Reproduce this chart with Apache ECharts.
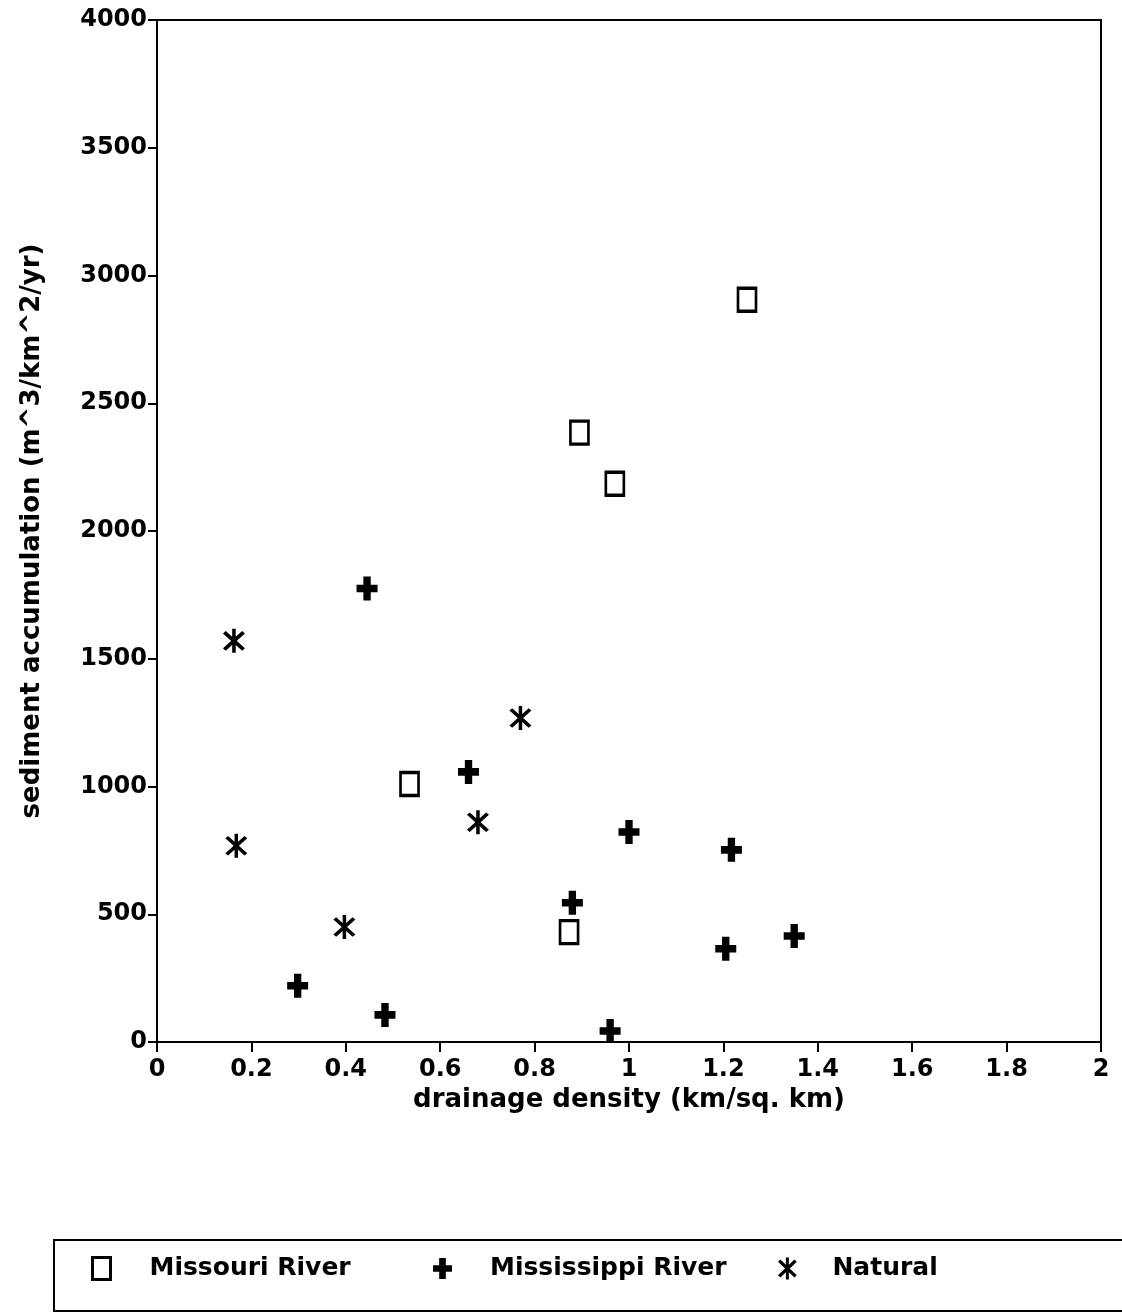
<!DOCTYPE html>
<html>
<head>
<meta charset="utf-8">
<title>sediment accumulation vs drainage density</title>
<script src="https://cdn.jsdelivr.net/npm/echarts@6/dist/echarts.min.js"></script>
<style>
  html, body { margin: 0; padding: 0; background: #fff; }
  #main { width: 1122px; height: 1314px; }
</style>
</head>
<body>
<div id="main"></div>
<script>
// data: [drainage density, sediment accumulation]
var missouri = [[1.25, 2905], [0.895, 2385], [0.97, 2185], [0.535, 1010], [0.873, 430]];
var mississippi = [[0.445, 1775], [0.66, 1057], [1.0, 822], [1.217, 752], [0.88, 545],
                   [1.205, 365], [1.35, 415], [0.298, 220], [0.483, 106], [0.96, 43]];
var natural = [[0.163, 1570], [0.168, 768], [0.397, 450], [0.68, 860], [0.77, 1268]];

var seriesNames = ['Missouri River', 'Mississippi River', 'Natural'];
var xTicks = { min: 0, max: 2, step: 0.2 };
var yTicks = { min: 0, max: 4000, step: 500 };

var font = 'DejaVu Sans';
// thick plus and asterisk drawn as filled shapes
var plusPath = 'path://M6.5,0 H13.5 V7.5 H20 V14.5 H13.5 V22 H6.5 V14.5 H0 V7.5 H6.5 Z';
var starPath = 'path://M8.5,0 H11.5 V22 H8.5 Z M0.6,4.2 L3,2 L19.4,17.8 L17,20 Z M17,2 L19.4,4.2 L3,20 L0.6,17.8 Z';

var myChart = echarts.init(document.getElementById('main'));

function legendAt(name, left, padLeft, icon, w, h, style) {
    return {
        left: left, top: 1256, padding: 0,
        orient: 'horizontal',
        itemWidth: w, itemHeight: h,
        data: [{ name: name, icon: icon, itemStyle: style }],
        textStyle: { fontFamily: font, fontSize: 25, fontWeight: 'bold', color: '#000', padding: [0, 0, 0, padLeft] },
        selectedMode: false
    };
}

myChart.setOption({
    backgroundColor: '#fff',
    animation: false,
    grid: {
        left: 157, right: 21, top: 20, bottom: 272,
        show: true, borderColor: '#000', borderWidth: 2, backgroundColor: 'transparent'
    },
    xAxis: {
        type: 'value',
        min: xTicks.min, max: xTicks.max, interval: xTicks.step,
        name: 'drainage density (km/sq. km)',
        nameLocation: 'middle', nameGap: 42,
        nameTextStyle: { fontFamily: font, fontSize: 26, fontWeight: 'bold', color: '#000' },
        axisLine: { show: true, onZero: false, lineStyle: { color: '#000', width: 2 } },
        axisTick: { show: true, inside: false, length: 10, lineStyle: { color: '#000', width: 2 } },
        axisLabel: { fontFamily: font, fontSize: 24, fontWeight: 'bold', color: '#000', margin: 16,
                     formatter: function (v) { return String(v); } },
        splitLine: { show: false }
    },
    yAxis: {
        type: 'value',
        min: yTicks.min, max: yTicks.max, interval: yTicks.step,
        name: 'sediment accumulation (m^3/km^2/yr)',
        nameLocation: 'middle', nameGap: 112,
        nameTextStyle: { fontFamily: font, fontSize: 26, fontWeight: 'bold', color: '#000' },
        axisLine: { show: true, onZero: false, lineStyle: { color: '#000', width: 2 } },
        axisTick: { show: true, inside: false, length: 9, lineStyle: { color: '#000', width: 2 } },
        axisLabel: { fontFamily: font, fontSize: 24, fontWeight: 'bold', color: '#000', margin: 10,
                     formatter: function (v) { return String(v); } },
        splitLine: { show: false }
    },
    legend: [
        legendAt(seriesNames[0], 91, 34, 'rect', 18, 22,
                 { color: '#fff', borderColor: '#000', borderWidth: 3 }),
        legendAt(seriesNames[1], 433, 33, plusPath, 19, 22, { color: '#000' }),
        legendAt(seriesNames[2], 778, 30, starPath, 20, 22, { color: '#000' })
    ],
    graphic: [{
        type: 'rect',
        shape: { x: 54, y: 1240, width: 1100, height: 71 },
        style: { fill: 'none', stroke: '#000', lineWidth: 2 },
        silent: true
    }],
    series: [
        {
            name: seriesNames[0], type: 'scatter', data: missouri,
            symbol: 'rect', symbolSize: [18, 23],
            itemStyle: { color: '#fff', borderColor: '#000', borderWidth: 3, opacity: 1 }
        },
        {
            name: seriesNames[1], type: 'scatter', data: mississippi,
            symbol: plusPath, symbolSize: [21, 24], symbolKeepAspect: false,
            itemStyle: { color: '#000', opacity: 1 }
        },
        {
            name: seriesNames[2], type: 'scatter', data: natural,
            symbol: starPath, symbolSize: [22, 24], symbolKeepAspect: false,
            itemStyle: { color: '#000', opacity: 1 }
        }
    ]
});
</script>
</body>
</html>
